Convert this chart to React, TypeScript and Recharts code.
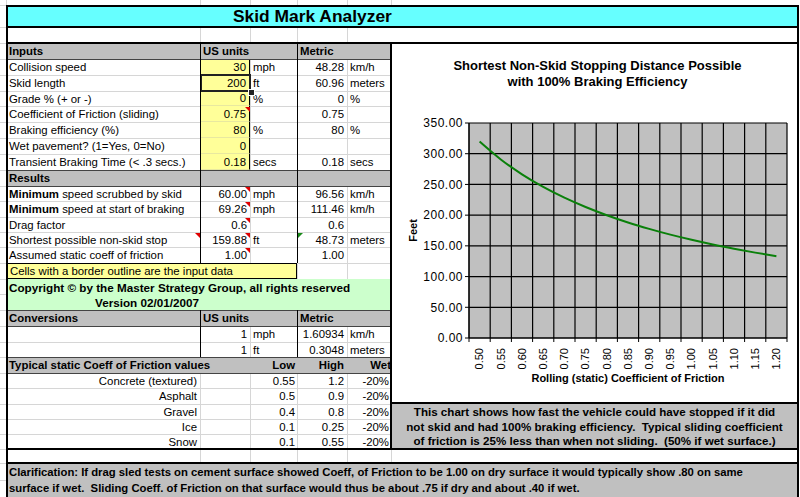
import React from 'react'
import { LineChart, Line, XAxis, YAxis, CartesianGrid } from 'recharts'

// chart values
const frictionCoeffs = ['0.50', '0.55', '0.60', '0.65', '0.70', '0.75', '0.80', '0.85', '0.90', '0.95', '1.00', '1.05', '1.10', '1.15', '1.20']
const stopDistances = [319.8, 290.7, 266.5, 246.0, 228.4, 213.2, 199.9, 188.1, 177.7, 168.3, 159.9, 152.3, 145.4, 139.0, 133.2]
const yTicks = [0, 50, 100, 150, 200, 250, 300, 350]

// sheet values
const inputLabels = ['Collision speed', 'Skid length', 'Grade % (+ or -)', 'Coefficient of Friction (sliding)', 'Braking efficiency (%)', 'Wet pavement? (1=Yes, 0=No)', 'Transient Braking Time (< .3 secs.)']
const inputUS = ['30', '200', '0', '0.75', '80', '0', '0.18']
const inputUSUnits = ['mph', 'ft', '%', '', '%', '', 'secs']
const inputMetric = ['48.28', '60.96', '0', '0.75', '80', '', '0.18']
const inputMetricUnits = ['km/h', 'meters', '%', '', '%', '', 'secs']

const resultBold = ['Minimum', 'Minimum', '', '', '']
const resultLabels = [' speed scrubbed by skid', ' speed at start of braking', 'Drag factor', 'Shortest possible non-skid stop', 'Assumed static coeff of friction']
const resultUS = ['60.00', '69.26', '0.6', '159.88', '1.00']
const resultUSUnits = ['mph', 'mph', '', 'ft', '']
const resultMetric = ['96.56', '111.46', '0.6', '48.73', '1.00']
const resultMetricUnits = ['km/h', 'km/h', '', 'meters', '']

const convUS = ['1', '1']
const convUSUnits = ['mph', 'ft']
const convMetric = ['1.60934', '0.3048']
const convMetricUnits = ['km/h', 'meters']

const surfaces = ['Concrete (textured)', 'Asphalt', 'Gravel', 'Ice', 'Snow']
const lowCoeff = ['0.55', '0.5', '0.4', '0.1', '0.1']
const highCoeff = ['1.2', '0.9', '0.8', '0.25', '0.55']
const wetCoeff = ['-20%', '-20%', '-20%', '-20%', '-20%']

const chartData = frictionCoeffs.map((c, i) => ({ coeff: c, feet: stopDistances[i] }))

const FONT = "'Liberation Sans', Arial, sans-serif"
const FS = 11.4
// column edges A..E, chart
const C = [6, 200, 250, 297, 347, 391, 798]
const inRows = [59, 75, 91, 106, 122, 138, 154, 170]
const resRows = [186, 201, 217, 232, 247, 263]
const convRows = [326, 342, 357]
const fricRows = [373, 388, 404, 419, 434, 449]
const gridRows = [5, 27, 43, ...inRows, ...resRows, 279, 294, 310, ...convRows, ...fricRows, 463, 480, 497]

const CHART_W = 407
const CHART_H = 360
const M = { top: 80, right: 11, left: 0, bottom: 0 }
const YW = 78
const XH = 65
const BW = (CHART_W - M.left - M.right - YW) / frictionCoeffs.length

function Cell({ x1, x2, y1, y2, bg, right, center, bold, style, children }: any) {
  return (
    <div
      style={{
        position: 'absolute', left: x1, top: y1, width: x2 - x1, height: y2 - y1,
        background: bg, boxSizing: 'border-box', display: 'flex', alignItems: 'center',
        justifyContent: right ? 'flex-end' : center ? 'center' : 'flex-start',
        padding: '0 3px', whiteSpace: 'nowrap', overflow: 'hidden',
        fontWeight: bold ? 'bold' : 'normal', ...style,
      }}
    >
      {children}
    </div>
  )
}

const HL = ({ x1, x2, y, w = 1, c = '#000' }: any) => (
  <div style={{ position: 'absolute', left: x1, top: y - Math.floor(w / 2), width: x2 - x1, height: w, background: c }} />
)
const VL = ({ x, y1, y2, w = 1, c = '#000' }: any) => (
  <div style={{ position: 'absolute', left: x - Math.floor(w / 2), top: y1, width: w, height: y2 - y1, background: c }} />
)
const Tri = ({ x, y, c = '#e00000', left }: any) => (
  <div style={{
    position: 'absolute', left: left ? x : x - 5, top: y, width: 0, height: 0,
    borderTop: `5px solid ${c}`,
    borderLeft: left ? 'none' : '5px solid transparent',
    borderRight: left ? '5px solid transparent' : 'none',
  }} />
)

function XTick(props: any) {
  const { x, y, payload, index } = props
  const axisY = y - 10
  return (
    <g>
      <line x1={x - BW / 2} x2={x - BW / 2} y1={axisY} y2={axisY + 4} stroke="#000" />
      {index === frictionCoeffs.length - 1 && (
        <line x1={x + BW / 2} x2={x + BW / 2} y1={axisY} y2={axisY + 4} stroke="#000" />
      )}
      <text
        transform={`translate(${x},${axisY + 10}) rotate(-90)`}
        textAnchor="end" dy="0.35em" fontSize={11} fill="#000" fontFamily={FONT}
      >
        {payload.value}
      </text>
    </g>
  )
}

function SkidChart() {
  return (
    <LineChart width={CHART_W} height={CHART_H} data={chartData} margin={M}>
      <CartesianGrid
        stroke="#000" strokeWidth={1.2} fill="#c0c0c0" fillOpacity={1}
        verticalCoordinatesGenerator={({ offset }: any) =>
          Array.from({ length: frictionCoeffs.length + 1 }, (_, i) => offset.left + (i * offset.width) / frictionCoeffs.length)
        }
      />
      <XAxis
        dataKey="coeff" scale="band" interval={0} height={XH}
        axisLine={{ stroke: '#000' }} tickLine={false} tickSize={4} tickMargin={6}
        tick={<XTick />}
        label={{
          content: ({ viewBox }: any) => (
            <text x={viewBox.x + viewBox.width / 2} y={viewBox.y + 40} dy="0.35em" textAnchor="middle"
              fontSize={11} fontWeight="bold" fontFamily={FONT} fill="#000">
              Rolling (static) Coefficient of Friction
            </text>
          ),
        }}
      />
      <YAxis
        domain={[0, 350]} ticks={yTicks} width={YW} interval={0}
        tickFormatter={(v: number) => v.toFixed(2)}
        axisLine={{ stroke: '#000' }} tickLine={{ stroke: '#000' }} tickSize={4} tickMargin={2}
        tick={{ fill: '#000', fontSize: 12, fontFamily: FONT, letterSpacing: 0.5 }}
        label={{
          content: ({ viewBox }: any) => {
            const cx = viewBox.x + 22
            const cy = viewBox.y + viewBox.height / 2
            return (
              <text transform={`translate(${cx},${cy}) rotate(-90)`} textAnchor="middle" dy="0.35em"
                fontSize={11} fontWeight="bold" fontFamily={FONT} fill="#000">
                Feet
              </text>
            )
          },
        }}
      />
      <Line type="monotone" dataKey="feet" stroke="#0a800a" strokeWidth={2} dot={false} isAnimationActive={false} />
    </LineChart>
  )
}

export default function App() {
  const gray = '#c0c0c0'
  const yellow = '#ffff99'
  return (
    <div style={{ position: 'absolute', left: 0, top: 0, width: 800, height: 497, background: '#fff', overflow: 'hidden', fontFamily: FONT, fontSize: FS, color: '#000' }}>
      {/* light sheet gridlines */}
      {gridRows.map((y) => <HL key={'g' + y} x1={0} x2={391} y={y} c="#d6d6d6" />)}
      {C.slice(0, 6).map((x) => <VL key={'gv' + x} x={x} y1={0} y2={497} c="#d6d6d6" />)}

      {/* title */}
      <Cell x1={6} x2={798} y1={5} y2={27} bg="#66ffff" />
      <div style={{ position: 'absolute', left: 233, top: 5, height: 22, display: 'flex', alignItems: 'center', fontSize: 17.4, fontWeight: 'bold' }}>Skid Mark Analyzer</div>
      <Cell x1={391} x2={798} y1={27} y2={43} bg="#fff" />

      {/* inputs */}
      <Cell x1={6} x2={200} y1={43} y2={59} bg={gray} bold>Inputs</Cell>
      <Cell x1={200} x2={297} y1={43} y2={59} bg={gray} bold>US units</Cell>
      <Cell x1={297} x2={391} y1={43} y2={59} bg={gray} bold>Metric</Cell>
      {inputLabels.map((l, i) => (
        <React.Fragment key={'in' + i}>
          <Cell x1={6} x2={200} y1={inRows[i]} y2={inRows[i + 1]}>{l}</Cell>
          <Cell x1={200} x2={250} y1={inRows[i]} y2={inRows[i + 1]} bg={yellow} right style={{ borderRight: '1px solid #000', borderBottom: '1px solid #e8e8a0' }}>{inputUS[i]}</Cell>
          <Cell x1={250} x2={297} y1={inRows[i]} y2={inRows[i + 1]}>{inputUSUnits[i]}</Cell>
          <Cell x1={297} x2={347} y1={inRows[i]} y2={inRows[i + 1]} right>{inputMetric[i]}</Cell>
          <Cell x1={347} x2={391} y1={inRows[i]} y2={inRows[i + 1]}>{inputMetricUnits[i]}</Cell>
        </React.Fragment>
      ))}
      <div style={{ position: 'absolute', left: 200, top: 74, width: 51, height: 18, border: '2px solid #222', boxSizing: 'border-box' }} />
      <div style={{ position: 'absolute', left: 248, top: 89, width: 5, height: 5, background: '#222', border: '1px solid #fff' }} />
      <Tri x={250} y={107} />

      {/* results */}
      <Cell x1={6} x2={200} y1={170} y2={186} bg={gray} bold>Results</Cell>
      <Cell x1={200} x2={297} y1={170} y2={186} bg={gray} />
      <Cell x1={297} x2={391} y1={170} y2={186} bg={gray} />
      {resultLabels.map((l, i) => (
        <React.Fragment key={'res' + i}>
          <Cell x1={6} x2={200} y1={resRows[i]} y2={resRows[i + 1]}>
            {resultBold[i] && <b>{resultBold[i]}</b>}
            <span style={{ whiteSpace: 'pre' }}>{l}</span>
          </Cell>
          <Cell x1={200} x2={250} y1={resRows[i]} y2={resRows[i + 1]} right>{resultUS[i]}</Cell>
          <Cell x1={250} x2={297} y1={resRows[i]} y2={resRows[i + 1]}>{resultUSUnits[i]}</Cell>
          <Cell x1={297} x2={347} y1={resRows[i]} y2={resRows[i + 1]} right>{resultMetric[i]}</Cell>
          <Cell x1={347} x2={391} y1={resRows[i]} y2={resRows[i + 1]}>{resultMetricUnits[i]}</Cell>
          <Tri x={250} y={resRows[i] + 1} />
        </React.Fragment>
      ))}
      <Tri x={200} y={233} />
      <Tri x={298} y={233} c="#1a8a1a" left />

      <Cell x1={6} x2={297} y1={263} y2={279} bg={yellow} style={{ border: '1px solid #000' }}>Cells with a border outline are the input data</Cell>

      {/* copyright */}
      <div style={{ position: 'absolute', left: 6, top: 279, width: 385, height: 31, background: '#ccffcc', fontWeight: 'bold', fontSize: 11.7, lineHeight: '15px', paddingTop: 1, boxSizing: 'border-box' }}>
        <div style={{ paddingLeft: 3 }}>Copyright © by the Master Strategy Group, all rights reserved</div>
        <div style={{ paddingLeft: 89 }}>Version 02/01/2007</div>
      </div>

      {/* conversions */}
      <Cell x1={6} x2={200} y1={310} y2={326} bg={gray} bold>Conversions</Cell>
      <Cell x1={200} x2={297} y1={310} y2={326} bg={gray} bold>US units</Cell>
      <Cell x1={297} x2={391} y1={310} y2={326} bg={gray} bold>Metric</Cell>
      {convUS.map((v, i) => (
        <React.Fragment key={'cv' + i}>
          <Cell x1={200} x2={250} y1={convRows[i]} y2={convRows[i + 1]} right>{v}</Cell>
          <Cell x1={250} x2={297} y1={convRows[i]} y2={convRows[i + 1]}>{convUSUnits[i]}</Cell>
          <Cell x1={297} x2={347} y1={convRows[i]} y2={convRows[i + 1]} right>{convMetric[i]}</Cell>
          <Cell x1={347} x2={391} y1={convRows[i]} y2={convRows[i + 1]}>{convMetricUnits[i]}</Cell>
        </React.Fragment>
      ))}

      {/* friction table */}
      <Cell x1={6} x2={391} y1={357} y2={373} bg={gray} bold>Typical static Coeff of Friction values</Cell>
      <Cell x1={250} x2={297} y1={357} y2={373} bold right style={{ paddingRight: 2 }}>Low</Cell>
      <Cell x1={297} x2={347} y1={357} y2={373} bold right>High</Cell>
      <Cell x1={347} x2={391} y1={357} y2={373} bold right style={{ paddingRight: 0 }}>Wet</Cell>
      {surfaces.map((s, i) => (
        <React.Fragment key={'sf' + i}>
          <Cell x1={6} x2={200} y1={fricRows[i]} y2={fricRows[i + 1]} right>{s}</Cell>
          <Cell x1={250} x2={297} y1={fricRows[i]} y2={fricRows[i + 1]} right style={{ paddingRight: 2 }}>{lowCoeff[i]}</Cell>
          <Cell x1={297} x2={347} y1={fricRows[i]} y2={fricRows[i + 1]} right>{highCoeff[i]}</Cell>
          <Cell x1={347} x2={391} y1={fricRows[i]} y2={fricRows[i + 1]} right style={{ paddingRight: 2 }}>{wetCoeff[i]}</Cell>
        </React.Fragment>
      ))}

      {/* chart */}
      <div style={{ position: 'absolute', left: 391, top: 43, width: CHART_W, height: CHART_H, background: '#fff' }}>
        <SkidChart />
        <div style={{ position: 'absolute', left: 0, top: 15, width: CHART_W + 6, textAlign: 'center', fontWeight: 'bold', fontSize: 13, lineHeight: '16px' }}>
          <div>Shortest Non-Skid Stopping Distance Possible</div>
          <div>with 100% Braking Efficiency</div>
        </div>
      </div>

      {/* chart note */}
      <div style={{ position: 'absolute', left: 391, top: 403, width: 407, height: 46, background: gray, fontWeight: 'bold', fontSize: 11.6, lineHeight: '14.5px', textAlign: 'center', paddingTop: 2, boxSizing: 'border-box' }}>
        <div>This chart shows how fast the vehicle could have stopped if it did</div>
        <div>not skid and had 100% braking efficiency.&nbsp; Typical sliding coefficient</div>
        <div>of friction is 25% less than when not sliding.&nbsp; (50% if wet surface.)</div>
      </div>

      {/* clarification */}
      <div style={{ position: 'absolute', left: 6, top: 463, width: 792, height: 34, background: gray, fontWeight: 'bold', fontSize: 11.3, lineHeight: '16px', paddingTop: 1, paddingLeft: 3, boxSizing: 'border-box' }}>
        <div>Clarification: If drag sled tests on cement surface showed Coeff, of Friction to be 1.00 on dry surface it would typically show .80 on same</div>
        <div>surface if wet.&nbsp; Sliding Coeff. of Friction on that surface would thus be about .75 if dry and about .40 if wet.</div>
      </div>

      {/* dark borders */}
      <HL x1={6} x2={391} y={59} c="#444" />
      <HL x1={6} x2={391} y={170} c="#444" />
      <HL x1={6} x2={391} y={186} c="#444" />
      <HL x1={6} x2={391} y={310} c="#444" />
      <HL x1={6} x2={391} y={326} c="#444" />
      <HL x1={6} x2={391} y={357} c="#444" />
      <HL x1={6} x2={391} y={373} c="#444" />
      <VL x={200} y1={43} y2={263} />
      <VL x={200} y1={310} y2={357} />
      <VL x={297} y1={43} y2={263} />
      <VL x={297} y1={310} y2={357} />

      <HL x1={6} x2={799} y={6} w={2} />
      <HL x1={6} x2={799} y={27} w={2} />
      <HL x1={6} x2={799} y={43} w={2} />
      <HL x1={391} x2={799} y={403} w={2} />
      <HL x1={6} x2={799} y={449} w={2} />
      <HL x1={6} x2={799} y={463} w={2} />
      <VL x={7} y1={5} y2={497} w={2} />
      <VL x={798} y1={5} y2={497} w={2} />
      <VL x={391} y1={43} y2={449} w={2} />
    </div>
  )
}
